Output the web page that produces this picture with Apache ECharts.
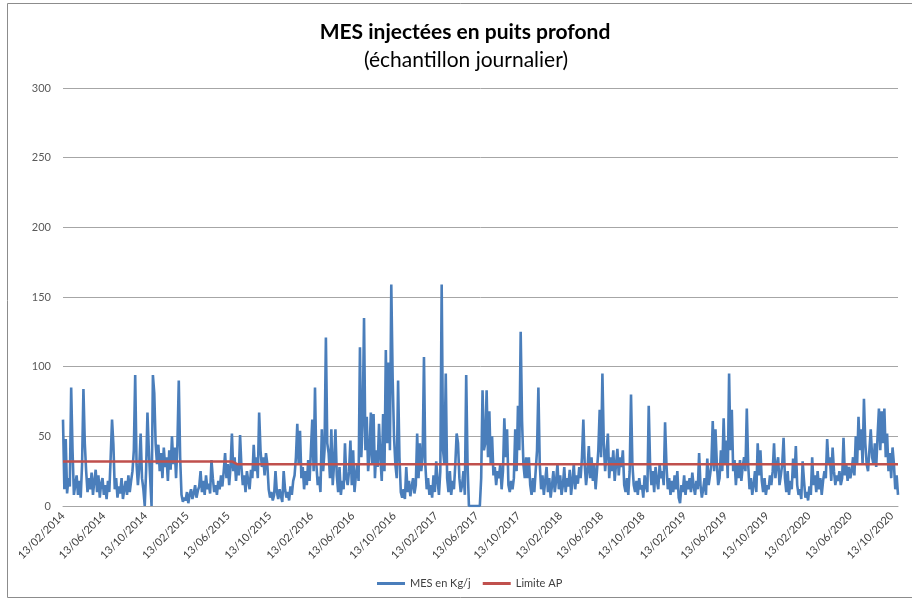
<!DOCTYPE html>
<html>
<head>
<meta charset="utf-8">
<title>MES injectées en puits profond</title>
<script src="https://cdn.jsdelivr.net/npm/echarts@6/dist/echarts.min.js"></script>
<style>
  html, body { margin: 0; padding: 0; background: #fff; }
  #chart { width: 912px; height: 602px; }
</style>
</head>
<body>
<div id="chart"></div>
<script>
// one value every 4 days from 13/02/2014
const startDay = [2014, 1, 13];
const stepDays = 4;

const mesValues = [
  62, 12, 48, 9, 20, 14, 85, 40, 8, 15,
  22, 8, 18, 6, 30, 84, 45, 25, 10, 20,
  12, 24, 8, 18, 26, 10, 22, 6, 16, 20,
  8, 15, 5, 18, 10, 35, 62, 44, 12, 20,
  6, 14, 9, 20, 5, 12, 18, 8, 22, 10,
  18, 25, 40, 94, 30, 15, 28, 52, 20, 12,
  0, 25, 67, 40, 20, 0, 94, 81, 45, 30,
  44, 25, 38, 20, 42, 28, 35, 18, 40, 26,
  50, 30, 42, 20, 45, 90, 35, 8, 3, 6,
  4, 10, 2, 8, 12, 5, 9, 15, 6, 11,
  14, 25, 10, 18, 8, 22, 12, 16, 9, 33,
  20, 10, 15, 8, 18, 12, 22, 14, 25, 38,
  20, 30, 15, 28, 52, 25, 35, 18, 30, 22,
  51, 28, 15, 22, 10, 25, 18, 12, 26, 20,
  44, 25, 35, 20, 67, 40, 28, 35, 22, 38,
  30, 12, 6, 10, 4, 8, 25, 10, 5, 12,
  7, 3, 25, 12, 6, 10, 4, 14, 8, 18,
  22, 35, 59, 30, 54, 20, 28, 12, 25, 15,
  33, 18, 40, 62, 25, 85, 30, 15, 21, 10,
  55, 25, 40, 121, 45, 38, 20, 55, 15, 30,
  55, 22, 10, 28, 8, 18, 12, 45, 20, 15,
  25, 47, 15, 40, 10, 22, 30, 18, 114, 35,
  60, 135, 40, 64, 25, 38, 67, 30, 66, 20,
  40, 28, 59, 35, 18, 66, 25, 112, 45, 103,
  40, 159, 92, 50, 30, 20, 90, 35, 10, 6,
  12, 5, 28, 10, 18, 7, 14, 20, 9, 15,
  52, 20, 45, 25, 35, 107, 30, 12, 20, 8,
  15, 6, 22, 10, 32, 18, 8, 25, 159, 40,
  30, 95, 20, 10, 25, 8, 18, 12, 30, 52,
  45, 20, 10, 15, 25, 8, 94, 30, 0, 0,
  0, 0, 0, 0, 0, 0, 0, 20, 83, 40,
  45, 83, 35, 68, 30, 50, 22, 28, 15, 25,
  20, 30, 12, 25, 63, 35, 55, 15, 10, 18,
  12, 20, 55, 25, 72, 40, 125, 61, 30, 20,
  35, 20, 35, 15, 8, 20, 10, 25, 40, 85,
  30, 12, 22, 8, 18, 28, 10, 20, 6, 15,
  25, 10, 18, 30, 12, 22, 8, 15, 28, 10,
  20, 14, 26, 8, 18, 30, 12, 22, 16, 28,
  20, 35, 62, 30, 15, 25, 43, 20, 35, 18,
  30, 12, 25, 40, 69, 35, 95, 45, 25, 38,
  52, 20, 35, 25, 40, 18, 30, 41, 22, 35,
  28, 40, 15, 10, 20, 8, 25, 80, 30, 15,
  10, 18, 8, 20, 12, 15, 6, 22, 14, 10,
  72, 30, 15, 25, 10, 28, 18, 12, 30, 20,
  25, 15, 60, 30, 12, 20, 8, 18, 10, 22,
  12, 25, 6, 2, 15, 10, 22, 8, 18, 12,
  20, 10, 24, 14, 8, 18, 12, 38, 15, 6,
  12, 20, 8, 34, 15, 22, 30, 61, 25, 55,
  30, 15, 20, 40, 25, 63, 30, 47, 20, 95,
  40, 69, 25, 33, 15, 30, 20, 33, 18, 28,
  35, 25, 70, 30, 12, 20, 8, 15, 25, 10,
  45, 22, 40, 18, 10, 20, 8, 15, 12, 22,
  15, 25, 45, 20, 30, 35, 15, 22, 30, 49,
  20, 10, 25, 8, 18, 12, 34, 20, 43, 15,
  8, 12, 5, 32, 18, 6, 10, 4, 14, 8,
  35, 15, 22, 10, 25, 12, 20, 8, 18, 25,
  20, 48, 30, 35, 18, 42, 25, 15, 22, 18,
  25, 15, 20, 49, 22, 30, 18, 28, 20, 25,
  35, 22, 50, 30, 64, 40, 55, 30, 77, 45,
  30, 25, 40, 55, 35, 30, 45, 28, 50, 70,
  40, 68, 45, 70, 35, 52, 25, 38, 20, 42,
  30, 12, 22, 8
];

const limiteDates = ['13/02/2014', '24/06/2015', '09/07/2015', '31/10/2020'];
const limiteValues = [32, 32, 30, 30];

const tickLabels = [
  '13/02/2014', '13/06/2014', '13/10/2014', '13/02/2015', '13/06/2015', '13/10/2015',
  '13/02/2016', '13/06/2016', '13/10/2016', '13/02/2017', '13/06/2017', '13/10/2017',
  '13/02/2018', '13/06/2018', '13/10/2018', '13/02/2019', '13/06/2019', '13/10/2019',
  '13/02/2020', '13/06/2020', '13/10/2020'
];

const font = 'Lato, "Liberation Sans", sans-serif';

const parseFr = (s) => {
  const [d, m, y] = s.split('/').map(Number);
  return new Date(y, m - 1, d).getTime();
};
const pad = (n) => (n < 10 ? '0' + n : '' + n);
const fmtFr = (t) => {
  const d = new Date(t);
  return pad(d.getDate()) + '/' + pad(d.getMonth() + 1) + '/' + d.getFullYear();
};

const mesData = mesValues.map((v, i) => [
  new Date(startDay[0], startDay[1], startDay[2] + i * stepDays).getTime(), v
]);
const limiteData = limiteDates.map((s, i) => [parseFr(s), limiteValues[i]]);
const tickTimes = tickLabels.map(parseFr);

const chart = echarts.init(document.getElementById('chart'));

chart.setOption({
  animation: false,
  textStyle: { fontFamily: font },
  graphic: [
    {
      type: 'rect',
      shape: { x: 7.5, y: 3.5, width: 920, height: 594 },
      style: { fill: 'none', stroke: '#8c8c8c', lineWidth: 1 },
      silent: true
    },
    {
      type: 'text',
      x: 465, y: 32,
      style: {
        text: 'MES injectées en puits profond',
        fontFamily: font, fontSize: 21, fontWeight: 'bold', fill: '#000',
        textAlign: 'center', textVerticalAlign: 'middle'
      }
    },
    {
      type: 'text',
      x: 466, y: 60,
      style: {
        text: '(échantillon journalier)',
        fontFamily: font, fontSize: 21, fill: '#000',
        textAlign: 'center', textVerticalAlign: 'middle'
      }
    }
  ],
  legend: {
    bottom: 8,
    left: 372,
    icon: 'rect',
    itemWidth: 28,
    itemHeight: 3,
    itemGap: 12,
    textStyle: { fontFamily: font, fontSize: 11, color: '#404040' },
    data: ['MES en Kg/j', 'Limite AP']
  },
  grid: { left: 63, right: 14, top: 88, bottom: 96 },
  xAxis: {
    type: 'value',
    min: tickTimes[0],
    max: mesData[mesData.length - 1][0],
    axisLine: { show: true, lineStyle: { color: '#a6a6a6', width: 1 } },
    axisTick: { show: false },
    splitLine: { show: false },
    axisLabel: {
      customValues: tickTimes,
      rotate: 45,
      margin: 8,
      hideOverlap: false,
      fontFamily: font,
      fontSize: 11,
      color: '#404040',
      formatter: (v) => fmtFr(v)
    }
  },
  yAxis: {
    type: 'value',
    min: 0,
    max: 300,
    interval: 50,
    axisLine: { show: false },
    axisTick: { show: false },
    axisLabel: { fontFamily: font, fontSize: 11, color: '#595959', margin: 12 },
    splitLine: { lineStyle: { color: '#a6a6a6', width: 1 } }
  },
  series: [
    {
      name: 'MES en Kg/j',
      type: 'line',
      data: mesData,
      showSymbol: false,
      symbol: 'none',
      color: '#4a7ebb',
      lineStyle: { color: '#4a7ebb', width: 2.6 }
    },
    {
      name: 'Limite AP',
      type: 'line',
      data: limiteData,
      showSymbol: false,
      symbol: 'none',
      color: '#c0504d',
      lineStyle: { color: '#c0504d', width: 2.5 },
      z: 3
    }
  ]
});
</script>
</body>
</html>
